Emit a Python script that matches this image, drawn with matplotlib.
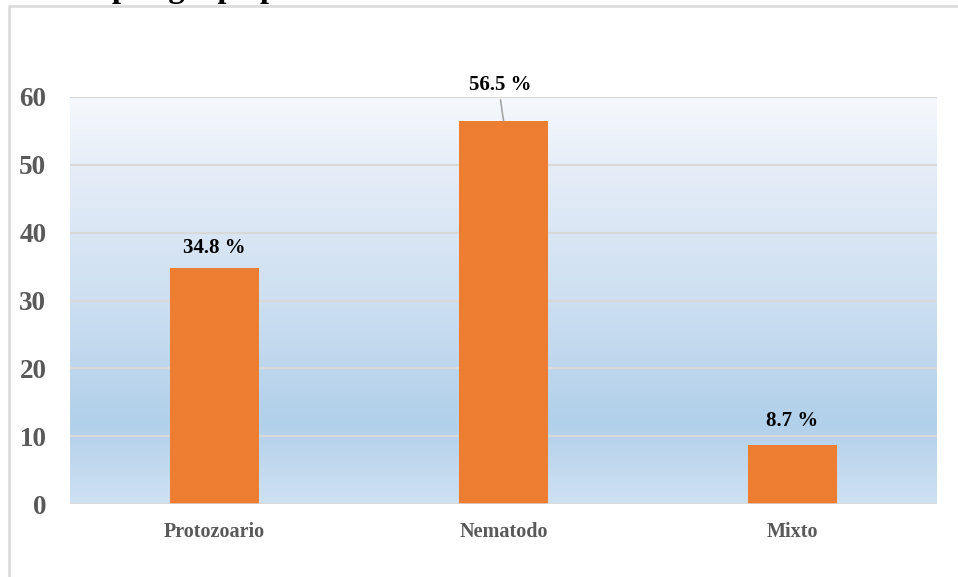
import matplotlib
matplotlib.use("Agg")
import matplotlib.pyplot as plt
import numpy as np
from matplotlib.colors import LinearSegmentedColormap
from matplotlib.patches import Rectangle

categories = ["Protozoario", "Nematodo", "Mixto"]
values = [34.8, 56.5, 8.7]
labels = ["34.8 %", "56.5 %", "8.7 %"]
yticks = [0, 10, 20, 30, 40, 50, 60]

plt.rcParams['font.family'] = ['Liberation Serif', 'DejaVu Serif']

fig = plt.figure(figsize=(9.58, 5.77), dpi=100)
fig.patch.set_facecolor("white")

# outer frame
fig.add_artist(Rectangle((9/958, -0.05), 1.1, 1 - 6/577 + 0.05, transform=fig.transFigure,
                         fill=False, edgecolor="#d9d9d9", linewidth=1.8, zorder=0))

# clipped title (only descenders visible, as in the reference)
fig.text(112/958, 1 + 2.5/577, "por grupo parasitario", fontsize=23.5, fontweight="bold",
         ha="left", va="baseline", color="black")

ax = fig.add_axes([70/958, 1 - 504/577, (937-70)/958, (504-97)/577])
ax.set_xlim(-0.5, 2.5)
ax.set_ylim(0, 60)

# gradient background
cmap = LinearSegmentedColormap.from_list("bg", [
    (0.0, "#cfe1f2"), (0.2, "#b1d0ea"), (0.5, "#cddff1"), (0.8, "#e3ecf7"), (1.0, "#f6f9fd")])
grad = np.linspace(0, 1, 256).reshape(-1, 1)
ax.imshow(grad, aspect="auto", cmap=cmap, origin="lower",
          extent=[-0.5, 2.5, 0, 60], zorder=0)

for s in ax.spines.values():
    s.set_visible(False)

ax.set_yticks(yticks)
ax.yaxis.grid(True, color="#d9d9d9", linewidth=1.6, zorder=1)
ax.set_axisbelow(True)
ax.tick_params(axis="y", length=0, pad=17, labelsize=19.5, labelcolor="#595959")
ax.tick_params(axis="x", length=0, pad=13, labelsize=14.5, labelcolor="#595959")
for t in ax.get_yticklabels() + ax.get_xticklabels():
    t.set_fontweight("bold")

x = np.arange(len(categories))
bars = ax.bar(x, values, width=0.31, color="#ed7d31", zorder=3)
ax.set_xticks(x)
ax.set_xticklabels(categories)
ax.axhline(0, color="#d9d9d9", linewidth=1.8, zorder=4)

offsets = [20, 36, 24]
for xi, v, lab, off in zip(x, values, labels, offsets):
    if off > 30:
        ax.annotate(lab, xy=(xi, v), xytext=(-3, off), textcoords="offset pixels",
                    ha="center", va="center", fontsize=15, fontweight="bold", color="black",
                    annotation_clip=False)
        ax.annotate("", xy=(xi, v), xytext=(-3, 21), textcoords="offset pixels",
                    arrowprops=dict(arrowstyle="-", color="#a6a6a6", lw=1.2,
                                    shrinkA=0, shrinkB=0), annotation_clip=False)
    else:
        ax.annotate(lab, xy=(xi, v), xytext=(0, off), textcoords="offset pixels",
                    ha="center", va="center", fontsize=15, fontweight="bold", color="black")

fig.savefig("out.png", dpi=100)
